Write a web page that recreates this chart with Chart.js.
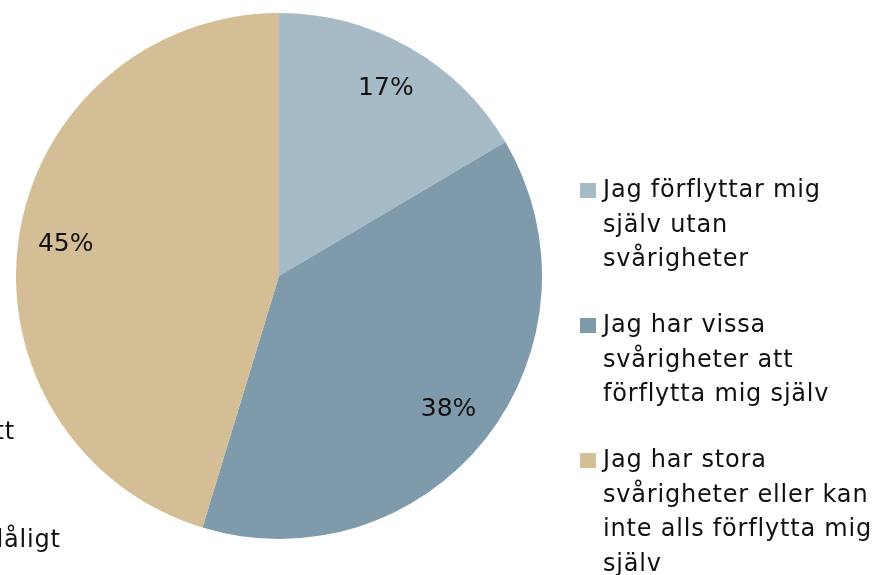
<!DOCTYPE html>
<html>
<head>
<meta charset="utf-8">
<script src="https://cdn.jsdelivr.net/npm/chart.js@4"></script>
<style>
  html, body { margin: 0; padding: 0; background: #fff; overflow: hidden; }
  #wrap { position: relative; width: 877px; height: 575px; overflow: hidden; font-family: 'DejaVu Sans', sans-serif; color: #111; }
  #chart { position: absolute; left: 0; top: 0; }
  .legend { position: absolute; left: 580px; top: 0; font-size: 24px; line-height: 34.5px; letter-spacing: 0.8px; }
  .legend .item { position: absolute; left: 0; white-space: nowrap; }
  .legend .box { position: absolute; left: 0; top: 11px; width: 16px; height: 15px; }
  .legend .txt { position: absolute; left: 23px; top: 0; }
  .frag { position: absolute; font-size: 24px; line-height: 30px; letter-spacing: 0.8px; white-space: nowrap; }
</style>
</head>
<body>
<div id="wrap">
  <canvas id="chart" width="877" height="575"></canvas>
  <div class="legend" id="legend"></div>
  <!-- rester av text från angränsande diagram, avklippta i kanten -->
  <div class="frag" style="left:-21px; top:416px;">att</div>
  <div class="frag" style="left:-12px; top:524px;">dåligt</div>
</div>
<script>
// kategorier och värden
const labels = [
  ['Jag förflyttar mig', 'själv utan', 'svårigheter'],
  ['Jag har vissa', 'svårigheter att', 'förflytta mig själv'],
  ['Jag har stora', 'svårigheter eller kan', 'inte alls förflytta mig', 'själv'],
];
const values = [16.5, 38.2, 45.3];
const colors = ['#A7BBC6', '#7F9AAB', '#D3BE95'];

// procentetiketter inne i tårtbitarna
const pctLabels = {
  id: 'pctLabels',
  afterDatasetsDraw(chart) {
    const ctx = chart.ctx;
    const meta = chart.getDatasetMeta(0);
    const total = values.reduce((a, b) => a + b, 0);
    ctx.save();
    ctx.font = '25px "DejaVu Sans", sans-serif';
    ctx.fillStyle = '#111';
    ctx.textAlign = 'center';
    ctx.textBaseline = 'middle';
    meta.data.forEach((arc, i) => {
      const mid = (arc.startAngle + arc.endAngle) / 2;
      const r = arc.outerRadius * 0.82;
      const x = arc.x + Math.cos(mid) * r;
      const y = arc.y + Math.sin(mid) * r;
      ctx.fillText(Math.round(values[i] / total * 100) + '%', x, y);
    });
    ctx.restore();
  },
};

new Chart(document.getElementById('chart'), {
  type: 'pie',
  data: {
    labels: labels.map((l) => l.join(' ')),
    datasets: [
      {
        data: values,
        backgroundColor: colors,
        borderWidth: 0,
      },
    ],
  },
  options: {
    responsive: false,
    animation: false,
    layout: {
      padding: { left: 16, top: 13, right: 335, bottom: 36 },
    },
    plugins: {
      legend: { display: false },
      tooltip: { enabled: false },
    },
  },
  plugins: [pctLabels],
});

// egen förklaring med radbrytningar som i originalet
const legendEl = document.getElementById('legend');
const itemTops = [172, 307, 442];
labels.forEach((lines, i) => {
  const item = document.createElement('div');
  item.className = 'item';
  item.style.top = itemTops[i] + 'px';
  item.innerHTML =
    '<div class="box" style="background:' + colors[i] + '"></div>' +
    '<div class="txt">' + lines.join('<br>') + '</div>';
  legendEl.appendChild(item);
});
</script>
</body>
</html>
